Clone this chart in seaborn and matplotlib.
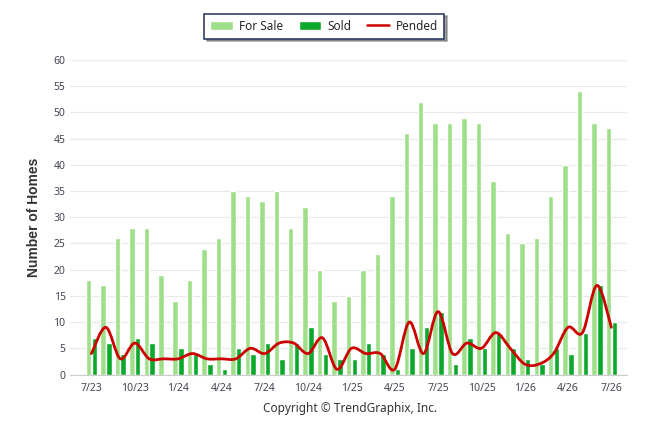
import numpy as np
import pandas as pd
import matplotlib
matplotlib.use("Agg")
import matplotlib.pyplot as plt
from matplotlib.path import Path
from matplotlib.patches import PathPatch, Patch
from matplotlib.lines import Line2D
import seaborn as sns

# Monthly data, 7/23 .. 7/26
months = [
    "7/23", "8/23", "9/23", "10/23", "11/23", "12/23",
    "1/24", "2/24", "3/24", "4/24", "5/24", "6/24", "7/24", "8/24", "9/24", "10/24", "11/24", "12/24",
    "1/25", "2/25", "3/25", "4/25", "5/25", "6/25", "7/25", "8/25", "9/25", "10/25", "11/25", "12/25",
    "1/26", "2/26", "3/26", "4/26", "5/26", "6/26", "7/26",
]
for_sale = [18, 17, 26, 28, 28, 19,
            14, 18, 24, 26, 35, 34, 33, 35, 28, 32, 20, 14,
            15, 20, 23, 34, 46, 52, 48, 48, 49, 48, 37, 27,
            25, 26, 34, 40, 54, 48, 47]
sold = [7, 6, 4, 7, 6, 0,
        5, 4, 2, 1, 5, 4, 6, 3, 6, 9, 4, 3,
        3, 6, 4, 1, 5, 9, 12, 2, 7, 5, 8, 5,
        3, 2, 5, 4, 8, 17, 10]
pended = [4, 9, 3, 6, 3, 3,
          3, 4, 3, 3, 3, 5, 4, 6, 6, 4, 7, 1,
          5, 4, 4, 1, 10, 4, 12, 4, 6, 5, 8, 5,
          2, 2, 4, 9, 8, 17, 9]

c_sale = "#9fdf89"
c_sold = "#0ca82c"
c_pend = "#cc0000"

df = pd.DataFrame({"Month": months, "For Sale": for_sale, "Sold": sold})
long = df.melt(id_vars="Month", var_name="Type", value_name="Homes")

sns.set_style("white")
plt.rcParams["font.family"] = ["Noto Sans", "DejaVu Sans"]

fig = plt.figure(figsize=(6.46, 4.34), dpi=100)
ax = fig.add_axes([0.108, 0.137, 0.863, 0.725])

sns.barplot(data=long, x="Month", y="Homes", hue="Type", order=months,
            palette=[c_sale, c_sold], width=0.8, gap=0.05, saturation=1,
            legend=False, ax=ax)

# smooth pended line (Catmull-Rom drawn as bezier path)
pts = np.column_stack([np.arange(len(pended)), pended]).astype(float)
verts = [tuple(pts[0])]
codes = [Path.MOVETO]
n = len(pts)
for i in range(n - 1):
    p0 = pts[max(i - 1, 0)]
    p1 = pts[i]
    p2 = pts[i + 1]
    p3 = pts[min(i + 2, n - 1)]
    c1 = p1 + (p2 - p0) / 6.0
    c2 = p2 - (p3 - p1) / 6.0
    verts += [tuple(c1), tuple(c2), tuple(p2)]
    codes += [Path.CURVE4] * 3
ax.add_patch(PathPatch(Path(verts, codes), facecolor="none", edgecolor=c_pend,
                       lw=2, capstyle="round", joinstyle="round", zorder=5))

ax.set_xlim(-1.5, 37.1)
ax.set_ylim(0, 60)
ax.set_yticks(range(0, 61, 5))
ax.yaxis.grid(True, color="#e8e8e8", lw=0.9)
ax.set_axisbelow(True)
ax.set_xticks(range(0, len(months), 3))
ax.set_xticklabels(months[::3])
ax.tick_params(axis="x", length=4, color="#cccccc", labelsize=7.5, labelcolor="#444455", pad=2)
ax.tick_params(axis="y", length=0, labelsize=7.5, labelcolor="#444455", pad=3)
for s in ["top", "right", "left"]:
    ax.spines[s].set_visible(False)
ax.spines["bottom"].set_color("#cccccc")
ax.set_xlabel("")
ax.set_ylabel("Number of Homes", fontsize=10, fontweight="bold", color="#333333",
              labelpad=9, family=["Liberation Sans", "DejaVu Sans"])

handles = [Patch(facecolor=c_sale, label="For Sale"),
           Patch(facecolor=c_sold, label="Sold"),
           Line2D([0], [0], color=c_pend, lw=1.8, label="Pended")]
leg = fig.legend(handles=handles, loc="upper center", bbox_to_anchor=(0.502, 0.982), ncol=3,
                 fontsize=8.5, frameon=True, fancybox=False, shadow=True,
                 handlelength=1.9, handleheight=0.7, columnspacing=1.3, handletextpad=0.55,
                 borderpad=0.5, edgecolor="#1f2f5a")
leg.get_frame().set_linewidth(1.1)

fig.text(0.542, 0.058, "Copyright \u00a9 TrendGraphix, Inc.", ha="center", va="center",
         fontsize=8.5, color="#333333")

fig.savefig("out.png", dpi=100)
